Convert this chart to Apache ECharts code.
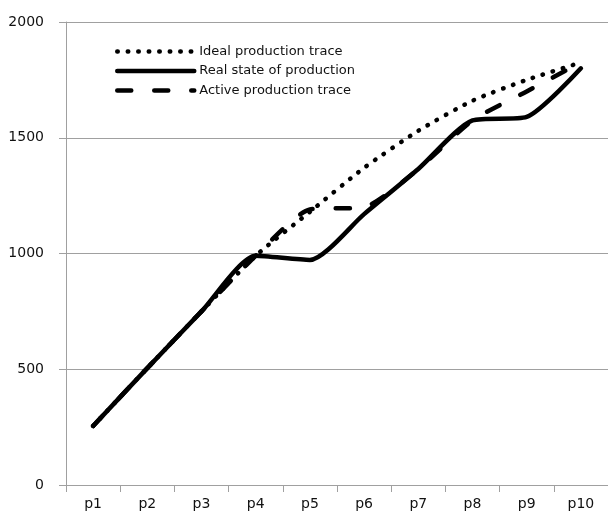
<!DOCTYPE html>
<html>
<head>
<meta charset="utf-8">
<script src="https://cdn.jsdelivr.net/npm/echarts@6/dist/echarts.min.js"></script>
<style>
html,body{margin:0;padding:0;background:#fff;}
#chart{width:608px;height:520px;}
</style>
</head>
<body>
<div id="chart"></div>
<script>
var categories = ['p1','p2','p3','p4','p5','p6','p7','p8','p9','p10'];
var idealTrace = [255, 505, 750, 990, 1180, 1370, 1530, 1660, 1750, 1825];
var realState = [255, 505, 750, 990, 972, 1170, 1365, 1575, 1590, 1800];
var activeTrace = [255, 505, 750, 990, 1190, 1200, 1365, 1575, 1700, 1825];
var yTicks = [0, 500, 1000, 1500, 2000];

var chart = echarts.init(document.getElementById('chart'), null, {renderer: 'canvas'});
var font = '"DejaVu Sans", sans-serif';
chart.setOption({
  animation: false,
  backgroundColor: '#ffffff',
  grid: {left: 66, top: 22, bottom: 35, right: -13, containLabel: false},
  legend: {
    orient: 'vertical',
    left: 110,
    top: 40,
    itemWidth: 77,
    itemHeight: 14,
    itemGap: 6.5,
    itemStyle: {color: 'transparent', borderWidth: 0, opacity: 0},
    lineStyle: {width: 4.5, cap: 'round'},
    textStyle: {fontFamily: font, fontSize: 13, color: '#111'},
    data: ['Ideal production trace', 'Real state of production', 'Active production trace']
  },
  xAxis: {
    type: 'category',
    data: categories,
    boundaryGap: true,
    axisLine: {lineStyle: {color: '#a0a0a0', width: 1}},
    axisTick: {show: true, length: 7, lineStyle: {color: '#a0a0a0'}},
    axisLabel: {fontFamily: font, fontSize: 14, color: '#111', margin: 12},
    splitLine: {show: false}
  },
  yAxis: {
    type: 'value',
    min: yTicks[0],
    max: yTicks[yTicks.length - 1],
    interval: 500,
    axisLine: {show: true, lineStyle: {color: '#a0a0a0', width: 1}},
    axisTick: {show: true, length: 7, lineStyle: {color: '#a0a0a0'}},
    axisLabel: {fontFamily: font, fontSize: 14, color: '#111', margin: 22,
      formatter: function (v) { return String(v); }},
    splitLine: {show: true, lineStyle: {color: '#a0a0a0', width: 1}}
  },
  series: [
    {
      name: 'Ideal production trace',
      type: 'line',
      data: idealTrace,
      smooth: 0.22,
      symbol: 'none',
      lineStyle: {color: '#000', width: 4.5, type: [0.5, 10], cap: 'round'},
      itemStyle: {color: '#000'}
    },
    {
      name: 'Active production trace',
      type: 'line',
      data: activeTrace,
      smooth: 0.22,
      symbol: 'none',
      lineStyle: {color: '#000', width: 4.5, type: [14, 23], cap: 'round'},
      itemStyle: {color: '#000'}
    },
    {
      name: 'Real state of production',
      type: 'line',
      data: realState,
      smooth: 0.22,
      symbol: 'none',
      lineStyle: {color: '#000', width: 4.5, cap: 'round'},
      itemStyle: {color: '#000'}
    }
  ]
});
</script>
</body>
</html>
